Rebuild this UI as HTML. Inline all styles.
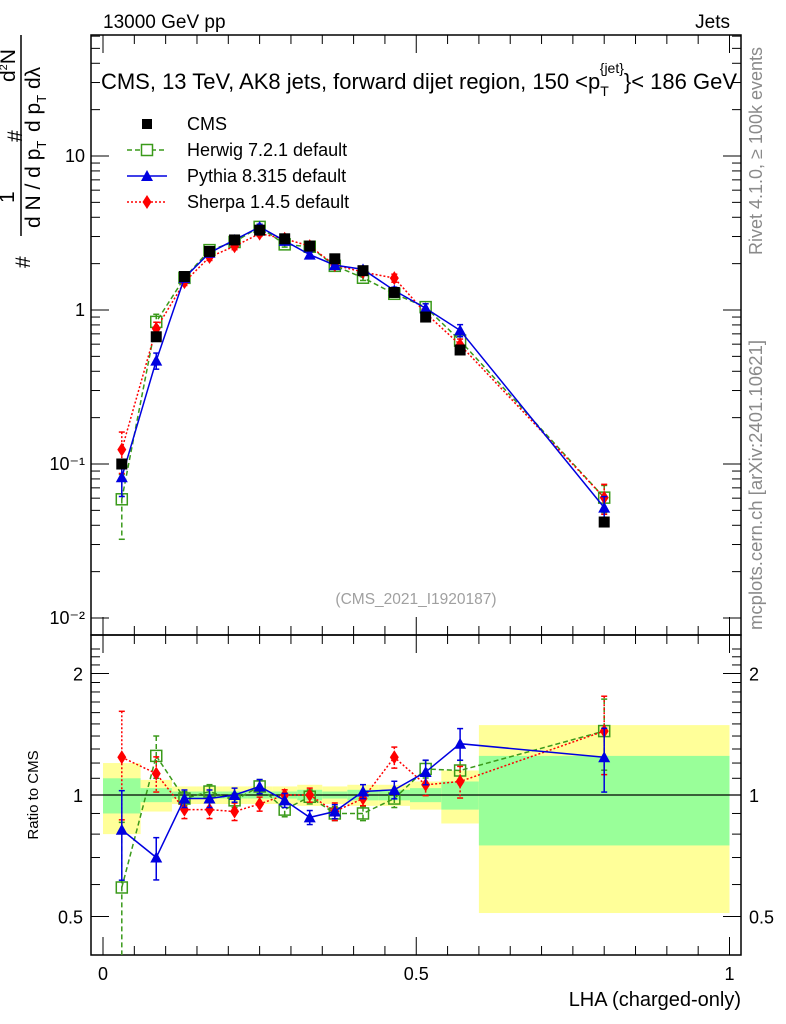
<!DOCTYPE html>
<html><head><meta charset="utf-8"><style>
body{margin:0;background:#fff}
svg{display:block;font-family:"Liberation Sans",sans-serif}
</style></head><body>
<svg id="c" width="786" height="1024" viewBox="0 0 786 1024">
<g id="bands"></g>
<g id="axes"></g>
<g id="series"></g>
<text x="103" y="28" font-size="19">13000 GeV pp</text>
<text x="730" y="28" font-size="19" text-anchor="end">Jets</text>
<text x="101" y="89" font-size="22" textLength="636">CMS, 13 TeV, AK8 jets, forward dijet region, 150 &lt;p<tspan font-size="14" dy="7">T</tspan><tspan font-size="14" dy="-23" dx="-9">{jet}</tspan><tspan dy="16">}&lt; 186 GeV</tspan></text>
<text x="416" y="604" font-size="15.5" fill="#a0a0a0" text-anchor="middle">(CMS_2021_I1920187)</text>
<text transform="translate(762,255) rotate(-90)" font-size="18" fill="#8a8a8a">Rivet 4.1.0, ≥ 100k events</text>
<text transform="translate(762,630) rotate(-90)" font-size="18.5" fill="#8a8a8a">mcplots.cern.ch [arXiv:2401.10621]</text>
<text x="741" y="1006" font-size="20" text-anchor="end">LHA (charged-only)</text>
<text transform="translate(38,795) rotate(-90)" font-size="15" text-anchor="middle">Ratio to CMS</text>
<g font-size="21">
<text transform="translate(30,268) rotate(-90)">#</text>
<text transform="translate(14,203) rotate(-90)">1</text>
<line x1="21" y1="236" x2="21" y2="35" stroke="#000" stroke-width="1.5"/>
<text transform="translate(40,228) rotate(-90)">d N / d p<tspan font-size="13" dy="6">T</tspan></text>
<text transform="translate(22,142) rotate(-90)">#</text>
<text transform="translate(15,82) rotate(-90)">d<tspan font-size="11" dy="-8">2</tspan><tspan dy="8">N</tspan></text>
<text transform="translate(40,132) rotate(-90)">d p<tspan font-size="13" dy="6">T</tspan><tspan dy="-6"> d</tspan>λ</text>
</g>
<g font-size="18">
<rect x="142" y="119" width="10" height="10" fill="#000"/>
<text x="187" y="130">CMS</text>
<line x1="127" y1="150" x2="167" y2="150" stroke="#3a9a1a" stroke-width="1.5" stroke-dasharray="5,3"/>
<rect x="141.5" y="144.5" width="11" height="11" fill="#fff" stroke="#3a9a1a" stroke-width="1.5"/>
<text x="187" y="156">Herwig 7.2.1 default</text>
<line x1="127" y1="176" x2="167" y2="176" stroke="#0000e0" stroke-width="1.5"/>
<polygon points="147,170 153,181 141,181" fill="#0000e0"/>
<text x="187" y="182">Pythia 8.315 default</text>
<line x1="127" y1="202" x2="167" y2="202" stroke="#ff0000" stroke-width="1.5" stroke-dasharray="2,2"/>
<polygon points="147,195 151.5,202 147,209 142.5,202" fill="#ff0000"/>
<text x="187" y="208">Sherpa 1.4.5 default</text>
</g>
</svg>
<script>
const binEdges=[0,0.06,0.11,0.15,0.19,0.23,0.27,0.31,0.35,0.39,0.44,0.49,0.54,0.6,1.0];
const cmsValues=[0.1,0.67,1.65,2.4,2.85,3.3,2.9,2.6,2.15,1.8,1.3,0.9,0.55,0.042];
const herwigRatio=[0.59,1.25,0.98,1.02,0.97,1.05,0.92,0.99,0.90,0.90,0.98,1.16,1.15,1.44];
const pythiaRatio=[0.82,0.70,0.98,0.98,1.0,1.05,0.97,0.88,0.91,1.02,1.03,1.14,1.34,1.24];
const sherpaRatio=[1.24,1.13,0.92,0.92,0.91,0.95,1.0,1.0,0.91,0.98,1.24,1.06,1.08,1.44];
const herwigErr=[0.45,0.12,0.04,0.04,0.04,0.04,0.04,0.04,0.04,0.04,0.05,0.05,0.06,0.2];
const pythiaErr=[0.25,0.12,0.05,0.05,0.04,0.04,0.04,0.04,0.04,0.04,0.05,0.07,0.09,0.18];
const sherpaErr=[0.3,0.1,0.05,0.05,0.05,0.04,0.03,0.04,0.05,0.04,0.06,0.06,0.09,0.22];
const bandTotal=[0.20,0.09,0.05,0.05,0.05,0.05,0.05,0.06,0.05,0.06,0.06,0.08,0.15,0.49];
const bandStat=[0.10,0.04,0.02,0.02,0.02,0.02,0.02,0.03,0.02,0.03,0.03,0.04,0.08,0.25];
const mainTicks=["10\u207B\u00B2","10\u207B\u00B9","1","10"];
const ratioTicks=[0.5,1,2];
const xTicks=[0,0.5,1];

const NS="http://www.w3.org/2000/svg";
const L=91,R=741,T=35,M=635,B=955;
const X=v=>103+v*626.5;
const Y=v=>310-Math.log10(v)*154;
const YR=v=>795-Math.log2(v)*121.5;
function mk(p,tag,a){const e=document.createElementNS(NS,tag);for(const k in a)e.setAttribute(k,a[k]);p.appendChild(e);return e;}
const axes=document.getElementById('axes'),bands=document.getElementById('bands'),ser=document.getElementById('series');

for(let i=0;i<cmsValues.length;i++){
  const x0=X(binEdges[i]),x1=X(binEdges[i+1]);
  const y=mk(bands,'rect',{x:x0,y:YR(1+bandTotal[i]),width:x1-x0,height:YR(1-bandTotal[i])-YR(1+bandTotal[i]),fill:'#ffff99'});
  
  
  const g=mk(bands,'rect',{x:x0,y:YR(1+bandStat[i]),width:x1-x0,height:YR(1-bandStat[i])-YR(1+bandStat[i]),fill:'#99ff99'});
  
  
}
mk(axes,'line',{x1:L,x2:R,y1:YR(1),y2:YR(1),stroke:'#000','stroke-width':1.2});

mk(axes,'rect',{x:L,y:T,width:R-L,height:M-T,fill:'none',stroke:'#000','stroke-width':1.5});
mk(axes,'rect',{x:L,y:M,width:R-L,height:B-M,fill:'none',stroke:'#000','stroke-width':1.5});
const tk=(x1,y1,x2,y2)=>mk(axes,'line',{x1,y1,x2,y2,stroke:'#000','stroke-width':1});
for(let d=-2;d<=1;d++){
  for(let m=1;m<10;m++){
    const v=m*Math.pow(10,d),y=Y(v);
    if(y<T||y>M)continue;
    const len=m==1?18:9;
    tk(L,y,L+len,y);tk(R,y,R-len,y);
  }
  const t=mk(axes,'text',{x:L-6,y:Y(Math.pow(10,d))+6,'font-size':18,'text-anchor':'end'});
  t.textContent=mainTicks[d+2];
  
  
}
for(let v=0.4;v<=2.4;v+=0.1){const y=YR(v);if(y<M||y>B)continue;tk(L,y,L+9,y);tk(R,y,R-9,y);}
ratioTicks.forEach(v=>{const y=YR(v);tk(L,y,L+18,y);tk(R,y,R-18,y);
  for(const [x,a] of [[L-8,'end'],[R+8,'start']]){
    const t=mk(axes,'text',{x,y:y+7,'font-size':18,'text-anchor':a});t.textContent=String(v);
    
    }
});
for(let i=0;i<=20;i++){const v=i*0.05,x=X(v),len=i%10==0?18:9;
  tk(x,B,x,B-len);tk(x,M,x,M-len);tk(x,M,x,M+len);tk(x,T,x,T+len);}
xTicks.forEach(v=>{const t=mk(axes,'text',{x:X(v),y:980,'font-size':18,'text-anchor':'middle'});t.textContent=String(v);
  
  });

const mids=binEdges.slice(0,-1).map((e,i)=>(e+binEdges[i+1])/2);
function marker(g,type,x,y,col){
  if(type=='sq')mk(g,'rect',{x:x-5.5,y:y-5.5,width:11,height:11,fill:'#000'});
  else if(type=='osq')mk(g,'rect',{x:x-5.5,y:y-5.5,width:11,height:11,fill:'#fff','fill-opacity':0,stroke:col,'stroke-width':1.5});
  else if(type=='tri')mk(g,'polygon',{points:`${x},${y-6} ${x+6},${y+5} ${x-6},${y+5}`,fill:col});
  else mk(g,'polygon',{points:`${x},${y-7} ${x+4.5},${y} ${x},${y+7} ${x-4.5},${y}`,fill:col});
}
function clipY(y,top,bot){return Math.max(top,Math.min(bot,y));}
function drawSeries(name,ratio,err,col,dash,type){
  const g=mk(ser,'g',{});
  
  
  const vals=ratio.map((r,i)=>r*cmsValues[i]);
  for(const [fy,arr,top,bot] of [[Y,vals,T,M],[YR,ratio,M,B]]){
    const pts=arr.map((v,i)=>`${X(mids[i])},${clipY(fy(v),top,bot)}`).join(' ');
    mk(g,'polyline',{points:pts,fill:'none',stroke:col,'stroke-width':1.5,'stroke-dasharray':dash});
    arr.forEach((v,i)=>{const x=X(mids[i]);
      const y1=clipY(fy(v*(1+err[i])),top,bot),y2=clipY(fy(Math.max(v*(1-err[i]),1e-3)),top,bot);
      mk(g,'line',{x1:x,x2:x,y1,y2,stroke:col,'stroke-width':1.5,'stroke-dasharray':dash});
      mk(g,'line',{x1:x-3,x2:x+3,y1,y2:y1,stroke:col,'stroke-width':1.5});
      if(y2<bot)mk(g,'line',{x1:x-3,x2:x+3,y1:y2,y2,stroke:col,'stroke-width':1.5});
      marker(g,type,x,fy(v),col);});
  }
}
drawSeries('herwig',herwigRatio,herwigErr,'#3a9a1a','5,3','osq');
drawSeries('sherpa',sherpaRatio,sherpaErr,'#ff0000','2,2','dia');
drawSeries('pythia',pythiaRatio,pythiaErr,'#0000e0','','tri');
const cg=mk(ser,'g',{});


cmsValues.forEach((v,i)=>marker(cg,'sq',X(mids[i]),Y(v),'#000'));
</script>
</body></html>
